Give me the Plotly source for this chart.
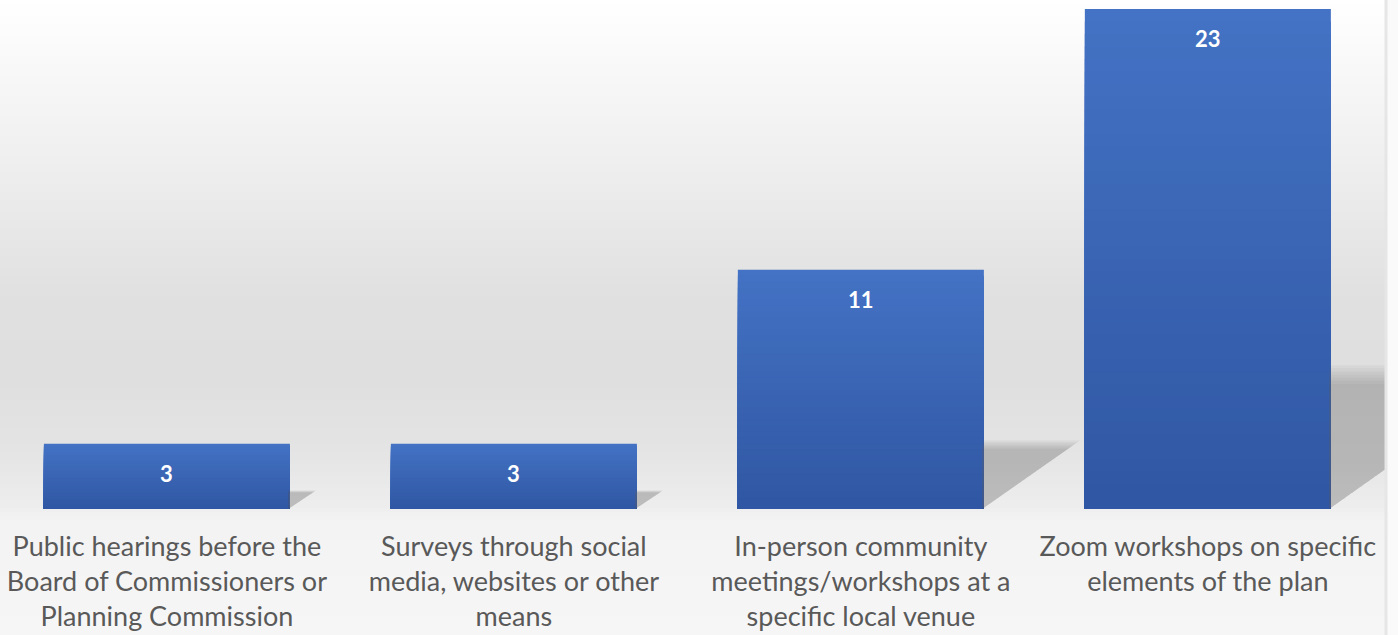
import plotly.graph_objects as go

categories = [
    "Public hearings before the<br>Board of Commissioners or<br>Planning Commission",
    "Surveys through social<br>media, websites or other<br>means",
    "In-person community<br>meetings/workshops at a<br>specific local venue",
    "Zoom workshops on specific<br>elements of the plan",
]
values = [3, 3, 11, 23]

W, H = 1398, 635
OFF = 0                     # page body margin removed via post_script
PLOT_BOTTOM = 509 - OFF     # px from figure top
BAR_W = 0.709
X_RANGE = [-0.481, 3.548]
Y_RANGE = [0, 23.41]
FONT = "Lato"

fig = go.Figure()
xs = list(range(len(values)))

# shadows (behind bars)
px_per_y = PLOT_BOTTOM / (Y_RANGE[1] - Y_RANGE[0])
px_per_x = W / (X_RANGE[1] - X_RANGE[0])
for i, v in zip(xs, values):
    h = 0.25 * v
    xr = i + BAR_W / 2
    dx = h * px_per_y * 1.4 / px_per_x
    layers = [(1.0 + 0.025 * s, 0.06) for s in range(6, -1, -1)]
    for grow, alpha in layers:
        hh = h * grow
        ddx = dx * grow
        fig.add_trace(go.Scatter(
            x=[xr - 0.005, xr - 0.005, xr + ddx, xr - 0.005],
            y=[0, hh, hh, 0],
            mode="lines", fill="toself", line=dict(width=0),
            fillcolor=f"rgba(110,110,110,{alpha})",
            hoverinfo="skip", showlegend=False,
        ))

# bars with vertical gradient (stacked overlay of shrinking bars)
top_c = (68, 114, 196)
bot_c = (47, 86, 162)
N = 40
for k in range(N):
    f = k / N
    c = tuple(round(top_c[j] + (bot_c[j] - top_c[j]) * f) for j in range(3))
    fig.add_trace(go.Bar(
        x=xs, y=[v * (N - k) / N for v in values], width=BAR_W,
        marker=dict(color=f"rgb{c}", line=dict(width=0)),
        hoverinfo="skip", showlegend=False,
    ))

# data labels
for i, v in zip(xs, values):
    fig.add_annotation(
        x=i, y=v, yshift=-30, text=f"<b>{v}</b>", showarrow=False,
        font=dict(family=FONT, size=22, color="white"), yanchor="middle",
    )

# background gradient strips (decoration), stops in screen px
stops = [(0, 255), (150, 240), (300, 224), (380, 223), (450, 228),
         (505, 237), (520, 243), (635, 246)]

def gray_at(y):
    for (y0, g0), (y1, g1) in zip(stops, stops[1:]):
        if y0 <= y <= y1:
            return g0 + (g1 - g0) * (y - y0) / (y1 - y0)
    return stops[-1][1]

def py(y_screen):
    return (PLOT_BOTTOM - (y_screen - OFF)) / PLOT_BOTTOM

shapes = []
step = 4
for y in range(0, H + OFF, step):
    g = round(gray_at(y + step / 2))
    shapes.append(dict(
        type="rect", xref="paper", yref="paper", layer="below",
        x0=0, x1=1, y0=py(y), y1=py(y + step + 0.5),
        fillcolor=f"rgb({g},{g},{g})", line=dict(width=0),
    ))
# right border strip
bx = (1386 - OFF) / W
shapes.append(dict(
    type="rect", xref="paper", yref="paper", layer="above",
    x0=bx, x1=1, y0=py(0), y1=py(H + OFF),
    fillcolor="rgb(250,250,250)", line=dict(width=0),
))
shapes.append(dict(
    type="line", xref="paper", yref="paper", layer="above",
    x0=bx, x1=bx, y0=py(0), y1=py(H + OFF),
    line=dict(color="rgb(230,230,230)", width=3),
))

fig.update_layout(
    width=W, height=H,
    margin=dict(l=0, r=0, t=0, b=H - PLOT_BOTTOM, pad=0),
    paper_bgcolor="white", plot_bgcolor="rgba(0,0,0,0)",
    barmode="overlay", shapes=shapes,
    xaxis=dict(
        range=X_RANGE, tickvals=xs, ticktext=categories,
        showgrid=False, zeroline=False, showline=False, ticks="",
        tickfont=dict(family=FONT, size=27, color="#595959"),
        ticklabelstandoff=19, ticklabeloverflow="allow",
    ),
    yaxis=dict(range=Y_RANGE, visible=False, showgrid=False),
    showlegend=False,
)

fig.write_html(
    "out.html",
    config={"displayModeBar": False},
    post_script="document.body.style.margin='0';document.body.style.overflow='hidden';",
)
